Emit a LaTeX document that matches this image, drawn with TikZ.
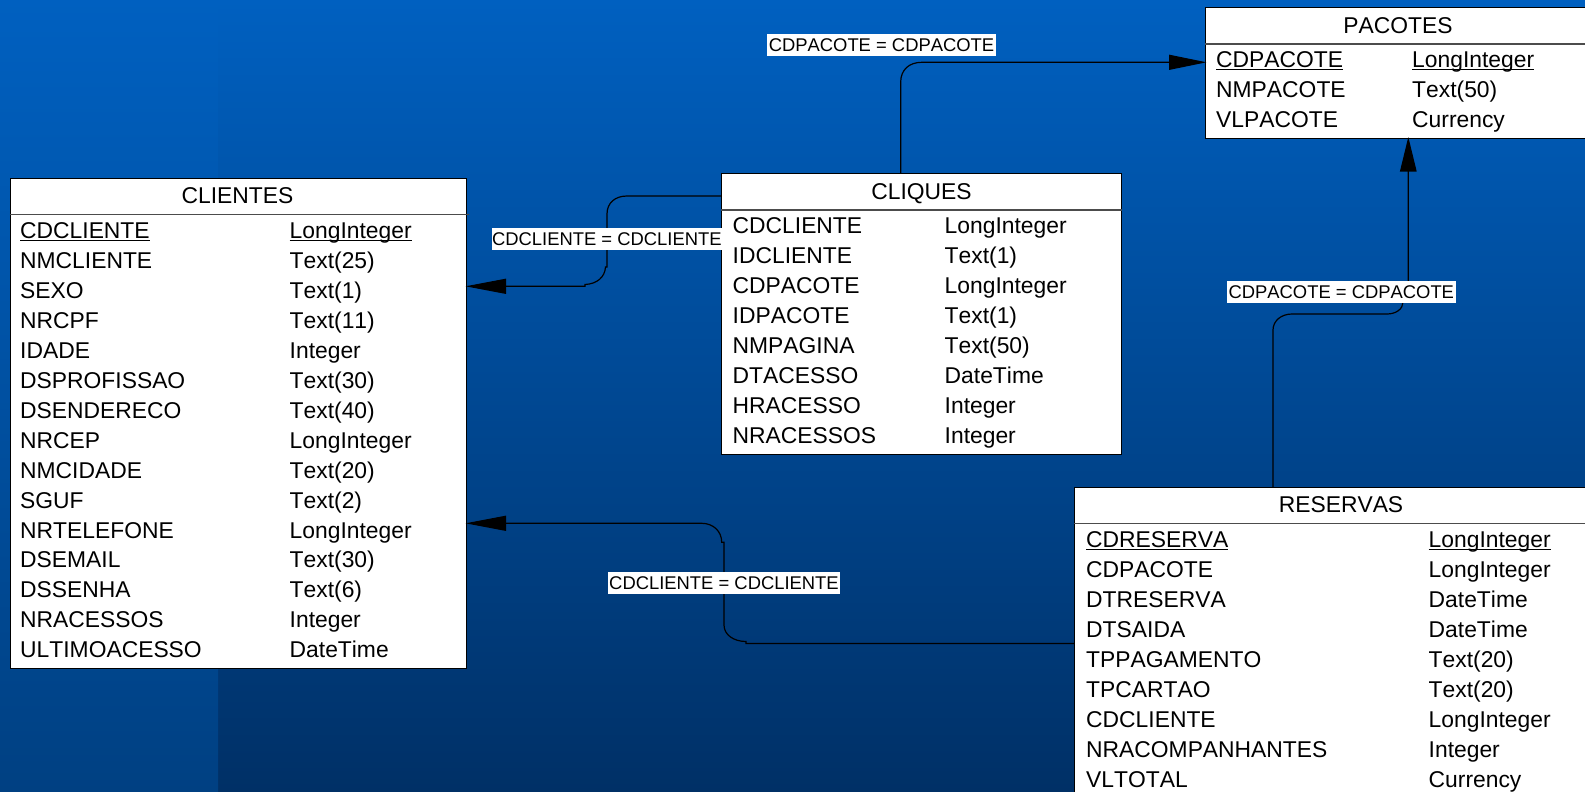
\documentclass[tikz,border=0pt]{standalone}
\usepackage{fontspec}
\setmainfont[Kerning=Off]{Liberation Sans}
\usetikzlibrary{arrows.meta}
\definecolor{bgtop}{RGB}{0,96,192}
\definecolor{bgbot}{RGB}{0,48,102}
\definecolor{bandtop}{RGB}{0,96,192}
\definecolor{bandbot}{RGB}{0,64,130}
\newlength{\ulw}
\newcommand{\keyul}[1]{\settowidth{\ulw}{#1}\rlap{\rule[-2.6pt]{\ulw}{1.5pt}}#1}
\tikzset{
  x=1pt,y=-1pt,
  tablebox/.style={draw=black,fill=white,line width=1pt,inner sep=0pt,anchor=north west},
  headtext/.style={anchor=base,font=\fontsize{22.85}{24}\selectfont,text=black,inner sep=0pt},
  rowtext/.style={anchor=base west,font=\fontsize{22.85}{24}\selectfont,text=black,inner sep=0pt},
  sepline/.style={draw=black!70,line width=1.2pt},
  joinlabel/.style={fill=white,text=black,inner sep=0pt,minimum height=21.6pt,font=\fontsize{18.4}{20}\selectfont,anchor=center},
  reln/.style={draw=black,line width=1.2pt},
  bigtip/.style n args={2}{-{Triangle[length=#1pt,width=#2pt]},shorten >=-1.5pt},
}
\newcommand{\erows}[5]{% name, x1, x2, first baseline, list
  \foreach \a/\b [count=\i from 0] in {#5}{
    \node[rowtext] (#1n\i) at (#2,#4+\i*29.95) {\a};
    \node[rowtext] (#1t\i) at (#3,#4+\i*29.95) {\b};
  }}
\begin{document}
\begin{tikzpicture}
\useasboundingbox (0,0) rectangle (1585,792);
% background
\shade[top color=bgtop,bottom color=bgbot] (0,0) rectangle (1585,792);
\shade[top color=bandtop,bottom color=bandbot] (0,0) rectangle (218,792);

% tables
\node[tablebox,minimum width=456.5pt,minimum height=490pt] (clientes) at (9.5,178) {};
\node[tablebox,minimum width=400pt,minimum height=281pt] (cliques) at (721.2,173) {};
\node[tablebox,minimum width=400pt,minimum height=130pt] (pacotes) at (1205,7.5) {};
\node[tablebox,minimum width=530pt,minimum height=320pt] (reservas) at (1074,487) {};
\draw[sepline] (clientes.west |- 0,214.5) -- (469,214.5);
\draw[sepline] (cliques.west |- 0,210) -- (cliques.east |- 0,210);
\draw[sepline] (pacotes.west |- 0,44) -- (pacotes.east |- 0,44);
\draw[sepline] (reservas.west |- 0,523.5) -- (reservas.east |- 0,523.5);

\node[headtext] (clientestitle) at (237.5,203.5) {CLIENTES};
\node[headtext] (cliquestitle) at (921.5,199) {CLIQUES};
\node[headtext] (pacotestitle) at (1398,33.5) {PACOTES};
\node[headtext] (reservastitle) at (1341,512) {RESERVAS};

\erows{c}{20}{289.5}{238.5}{\keyul{CDCLIENTE}/\keyul{LongInteger},NMCLIENTE/Text(25),SEXO/Text(1),NRCPF/Text(11),IDADE/Integer,DSPROFISSAO/Text(30),DSENDERECO/Text(40),NRCEP/LongInteger,NMCIDADE/Text(20),SGUF/Text(2),NRTELEFONE/LongInteger,DSEMAIL/Text(30),DSSENHA/Text(6),NRACESSOS/Integer,ULTIMOACESSO/DateTime}
\erows{q}{732.5}{944.5}{233.5}{CDCLIENTE/LongInteger,IDCLIENTE/Text(1),CDPACOTE/LongInteger,IDPACOTE/Text(1),NMPAGINA/Text(50),DTACESSO/DateTime,HRACESSO/Integer,NRACESSOS/Integer}
\erows{p}{1216}{1412}{67.5}{\keyul{CDPACOTE}/\keyul{LongInteger},NMPACOTE/Text(50),VLPACOTE/Currency}
\erows{r}{1086}{1428.5}{547.6}{\keyul{CDRESERVA}/\keyul{LongInteger},CDPACOTE/LongInteger,DTRESERVA/DateTime,DTSAIDA/DateTime,TPPAGAMENTO/Text(20),TPCARTAO/Text(20),CDCLIENTE/LongInteger,NRACOMPANHANTES/Integer,VLTOTAL/Currency}

% anchors for the connectors
\coordinate (qleft) at (cliques.west |- 0,196);
\coordinate (ctipa) at (clientes.east |- 0,286.3);
\coordinate (qtop) at (900.7,0 |- cliques.north);
\coordinate (ptipa) at (pacotes.west |- 0,62.3);
\coordinate (rtop) at (1273,0 |- reservas.north);
\coordinate (ptipb) at (1408.3,0 |- pacotes.south);
\coordinate (rleft) at (reservas.west |- 0,643.5);
\coordinate (ctipb) at (clientes.east |- 0,523.3);

% connectors
\draw[reln,bigtip={40.5}{15}] (qleft) -- (627,196) .. controls (615,196) and (607,203) .. (607,214)
  -- (607,267) -- (605.5,267) .. controls (605,277) and (597,284) .. (585,284.5) -- (585,286.3) -- (ctipa);
\draw[reln,bigtip={37.5}{15}] (qtop) -- (900.7,82) .. controls (900.7,70) and (909,62.3) .. (921.7,62.3) -- (ptipa);
\draw[reln,bigtip={34.5}{16.5}] (rtop) -- (1273,330) .. controls (1273,321) and (1281,314) .. (1292,314)
  -- (1387,314) .. controls (1396,314) and (1403,309) .. (1403,302) -- (1408.3,302) -- (ptipb);
\draw[reln,bigtip={40.5}{15}] (rleft) -- (746,643.5) -- (746,641.5) .. controls (734,641.5) and (724,635) .. (724,625)
  -- (724,542.3) -- (721.7,542.3) .. controls (721.7,531) and (713,523.3) .. (701.7,523.3) -- (ctipb);

% labels
\node[joinlabel,minimum width=229.7pt] (la) at (606.85,239) {CDCLIENTE = CDCLIENTE};
\node[joinlabel,minimum width=229pt] (lb) at (881.5,44.9) {CDPACOTE = CDPACOTE};
\node[joinlabel,minimum width=229pt] (lc) at (1341.3,291.9) {CDPACOTE = CDPACOTE};
\node[joinlabel,minimum width=232pt] (ld) at (724,582.9) {CDCLIENTE = CDCLIENTE};
\end{tikzpicture}
\end{document}
